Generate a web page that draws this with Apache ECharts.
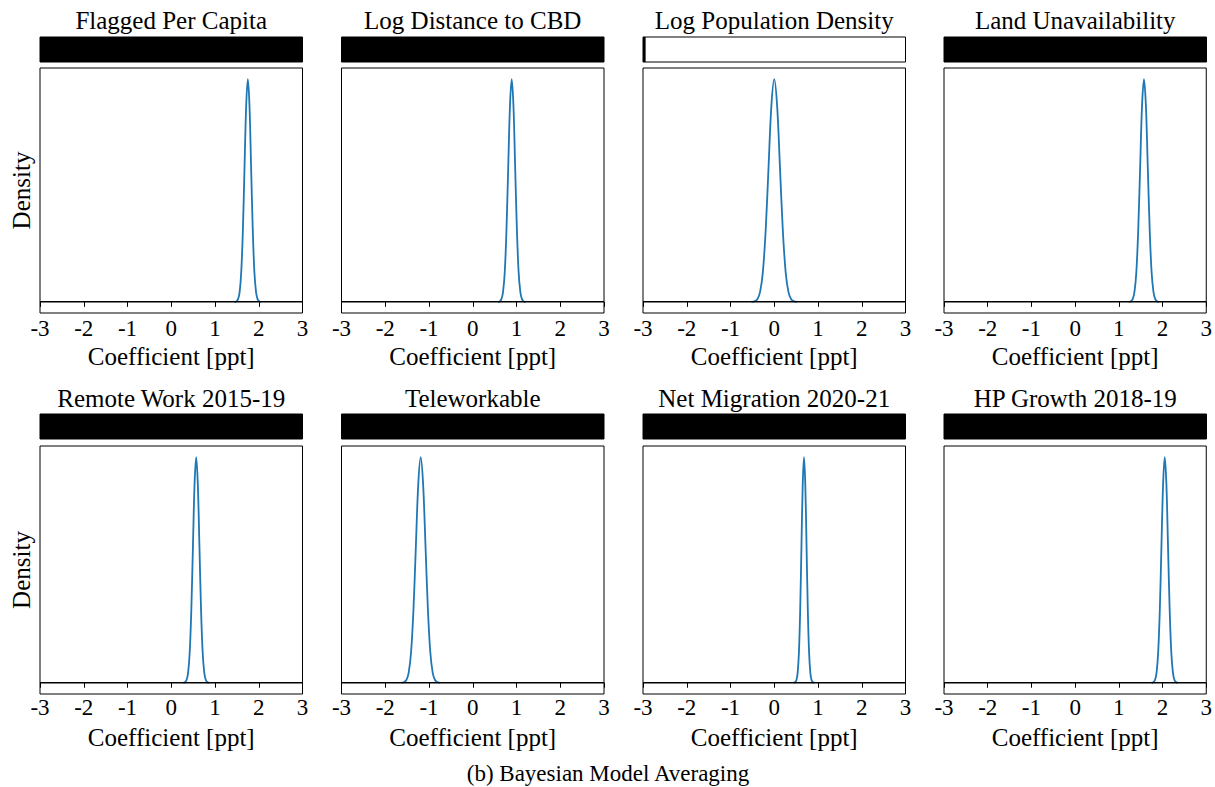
<!DOCTYPE html>
<html>
<head>
<meta charset="utf-8">
<title>Bayesian Model Averaging</title>
<script src="https://cdn.jsdelivr.net/npm/echarts@6/dist/echarts.min.js"></script>
<style>
  html, body { margin: 0; padding: 0; background: #fff; }
  #chart { width: 1215px; height: 787px; }
</style>
</head>
<body>
<div id="chart"></div>
<script>
// panel titles, in reading order
const panelTitles = [
  "Flagged Per Capita", "Log Distance to CBD", "Log Population Density", "Land Unavailability",
  "Remote Work 2015-19", "Teleworkable", "Net Migration 2020-21", "HP Growth 2018-19",
];

// posterior inclusion probability (length of the black bar)
const inclusionProb = [1, 1, 0.01, 1, 1, 1, 1, 1];

// posterior density, x = coefficient [ppt], y = density scaled to peak 1
const flaggedX = [1.45, 1.488, 1.525, 1.563, 1.6, 1.638, 1.675, 1.713, 1.75, 1.788, 1.825, 1.863, 1.9, 1.938, 1.975, 2.013, 2.05];
const flaggedY = [0.0003, 0.002, 0.011, 0.044, 0.135, 0.325, 0.607, 0.882, 1, 0.882, 0.607, 0.325, 0.135, 0.044, 0.011, 0.002, 0.0003];

const distanceX = [0.574, 0.613, 0.653, 0.692, 0.732, 0.771, 0.811, 0.851, 0.89, 0.93, 0.969, 1.009, 1.048, 1.088, 1.127, 1.167, 1.206];
const distanceY = [0.0003, 0.002, 0.011, 0.044, 0.135, 0.325, 0.607, 0.882, 1, 0.882, 0.607, 0.325, 0.135, 0.044, 0.011, 0.002, 0.0003];

const popDensityX = [-0.52, -0.455, -0.39, -0.325, -0.26, -0.195, -0.13, -0.065, 0, 0.065, 0.13, 0.195, 0.26, 0.325, 0.39, 0.455, 0.52];
const popDensityY = [0.0003, 0.002, 0.011, 0.044, 0.135, 0.325, 0.607, 0.882, 1, 0.882, 0.607, 0.325, 0.135, 0.044, 0.011, 0.002, 0.0003];

const landX = [1.227, 1.27, 1.314, 1.357, 1.401, 1.444, 1.488, 1.531, 1.575, 1.619, 1.662, 1.706, 1.749, 1.793, 1.836, 1.88, 1.923];
const landY = [0.0003, 0.002, 0.011, 0.044, 0.135, 0.325, 0.607, 0.882, 1, 0.882, 0.607, 0.325, 0.135, 0.044, 0.011, 0.002, 0.0003];

const remoteX = [0.274, 0.311, 0.348, 0.385, 0.422, 0.459, 0.496, 0.533, 0.57, 0.607, 0.644, 0.681, 0.718, 0.755, 0.792, 0.829, 0.866];
const remoteY = [0.0003, 0.002, 0.011, 0.044, 0.135, 0.325, 0.607, 0.882, 1, 0.882, 0.607, 0.325, 0.135, 0.044, 0.011, 0.002, 0.0003];

const teleX = [-1.63, -1.575, -1.52, -1.465, -1.41, -1.355, -1.3, -1.245, -1.19, -1.135, -1.08, -1.025, -0.97, -0.915, -0.86, -0.805, -0.75];
const teleY = [0.0003, 0.002, 0.011, 0.044, 0.135, 0.325, 0.607, 0.882, 1, 0.882, 0.607, 0.325, 0.135, 0.044, 0.011, 0.002, 0.0003];

const migrationX = [0.448, 0.477, 0.506, 0.535, 0.564, 0.593, 0.622, 0.651, 0.68, 0.709, 0.738, 0.767, 0.796, 0.825, 0.854, 0.883, 0.912];
const migrationY = [0.0003, 0.002, 0.011, 0.044, 0.135, 0.325, 0.607, 0.882, 1, 0.882, 0.607, 0.325, 0.135, 0.044, 0.011, 0.002, 0.0003];

const hpGrowthX = [1.75, 1.788, 1.825, 1.863, 1.9, 1.938, 1.975, 2.013, 2.05, 2.088, 2.125, 2.163, 2.2, 2.238, 2.275, 2.313, 2.35];
const hpGrowthY = [0.0003, 0.002, 0.011, 0.044, 0.135, 0.325, 0.607, 0.882, 1, 0.882, 0.607, 0.325, 0.135, 0.044, 0.011, 0.002, 0.0003];

// zero line drawn across each panel
const baseX = [-3, 3];
const baseY = [0, 0];

const xTicks = [-3, -2, -1, 0, 1, 2, 3];

const curves = [
  [flaggedX, flaggedY], [distanceX, distanceY], [popDensityX, popDensityY], [landX, landY],
  [remoteX, remoteY], [teleX, teleY], [migrationX, migrationY], [hpGrowthX, hpGrowthY],
];

const FONT = '"Liberation Serif", "DejaVu Serif", serif';
const colLeft = [40, 341.5, 643, 944];
const plotW = 262.5;
const rows = [
  { titleY: 20, barTop: 37, barH: 25, plotTop: 68, plotH: 245, labelMargin: 4 },
  { titleY: 398, barTop: 414, barH: 25, plotTop: 446, plotH: 248, labelMargin: 2 },
];

const grid = [];
const xAxis = [];
const yAxis = [];
const series = [];
const graphic = [];

panelTitles.forEach((title, i) => {
  const r = rows[Math.floor(i / 4)];
  const c = i % 4;
  const left = colLeft[c];

  graphic.push({
    type: "text",
    style: {
      text: title,
      x: left + plotW / 2,
      y: r.titleY,
      textAlign: "center",
      textVerticalAlign: "middle",
      font: `25px ${FONT}`,
      fill: "#000",
    },
  });

  // inclusion bar
  grid.push({
    left: left, top: r.barTop, width: plotW, height: r.barH,
    show: true, borderColor: "#000", borderWidth: 1, backgroundColor: "#fff",
  });
  xAxis.push({ gridIndex: 2 * i, type: "value", min: 0, max: 1, show: false });
  yAxis.push({ gridIndex: 2 * i, type: "category", data: ["pip"], show: false });
  series.push({
    type: "bar",
    xAxisIndex: 2 * i,
    yAxisIndex: 2 * i,
    data: [inclusionProb[i]],
    barWidth: "100%",
    itemStyle: { color: "#000" },
    silent: true,
  });

  // density plot
  grid.push({
    left: left, top: r.plotTop, width: plotW, height: r.plotH,
    show: true, borderColor: "#000", borderWidth: 1,
  });
  xAxis.push({
    gridIndex: 2 * i + 1,
    type: "value",
    min: xTicks[0],
    max: xTicks[xTicks.length - 1],
    interval: 1,
    axisLine: { show: false },
    axisTick: { show: true, inside: false, length: 5, lineStyle: { color: "#000", width: 1 } },
    axisLabel: { color: "#000", fontFamily: FONT, fontSize: 23, margin: r.labelMargin },
    splitLine: { show: false },
    name: "Coefficient [ppt]",
    nameLocation: "middle",
    nameGap: 31,
    nameTextStyle: { color: "#000", fontFamily: FONT, fontSize: 25 },
  });
  yAxis.push({
    gridIndex: 2 * i + 1,
    type: "value",
    min: -0.05,
    max: 1.05,
    axisLine: { show: false },
    axisTick: { show: false },
    axisLabel: { show: false },
    splitLine: { show: false },
    name: c === 0 ? "Density" : "",
    nameLocation: "middle",
    nameRotate: 90,
    nameGap: 6,
    nameTextStyle: { color: "#000", fontFamily: FONT, fontSize: 25 },
  });

  const [xs, ys] = curves[i];
  series.push({
    type: "line",
    xAxisIndex: 2 * i + 1,
    yAxisIndex: 2 * i + 1,
    data: xs.map((x, k) => [x, ys[k]]),
    smooth: 0.35,
    showSymbol: false,
    lineStyle: { color: "#1f77b4", width: 1.8 },
    silent: true,
  });
  series.push({
    type: "line",
    xAxisIndex: 2 * i + 1,
    yAxisIndex: 2 * i + 1,
    data: baseX.map((x, k) => [x, baseY[k]]),
    showSymbol: false,
    lineStyle: { color: "#000", width: 1.5 },
    silent: true,
  });
});

graphic.push({
  type: "text",
  style: {
    text: "(b) Bayesian Model Averaging",
    x: 608,
    y: 773,
    textAlign: "center",
    textVerticalAlign: "middle",
    font: `23px ${FONT}`,
    fill: "#000",
  },
});

const chart = echarts.init(document.getElementById("chart"), null, { renderer: "svg" });
chart.setOption({
  animation: false,
  backgroundColor: "#fff",
  grid: grid,
  xAxis: xAxis,
  yAxis: yAxis,
  series: series,
  graphic: graphic,
});
</script>
</body>
</html>
